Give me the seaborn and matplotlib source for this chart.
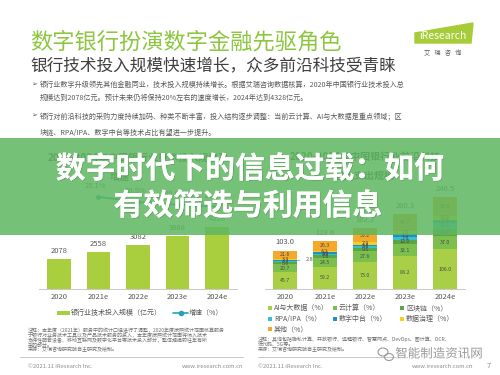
import numpy as np
import matplotlib
matplotlib.use("Agg")
import matplotlib.pyplot as plt
import seaborn as sns
from matplotlib.patches import Rectangle, Polygon, Ellipse
import matplotlib.patheffects as pe

# ---------------- data ----------------
years = ["2020", "2021e", "2022e", "2023e", "2024e"]
invest = [2078, 2558, 3082, 3668, 4328]
growth_years = ["2021e", "2022e", "2023e", "2024e"]
growth = [23.1, 20.5, 19.0, 18.0]

spend_total = [103.0, 128.6, 162.2, 200.3, 246.5]
seg_names = ["AI与大数据", "云计算", "区块链", "RPA/IPA", "数字中台", "数据治理", "其他"]
ai = [45.7, 59.2, 73.0, 88.2, 106.0]
cloud = [20.7, 24.5, 27.6, 32.1, 37.0]
chain = [5.6, 7.6, 9.6, 12.0, 18.5]
rpa = [3.3, 3.5, 5.6, 7.6, 15.1]
midplat = [2.8, 3.3, 3.3, 7.2, 8.5]
gov = [3.3, 4.2, 7.9, 7.5, 10.6]
other = [21.6, 26.3, 35.2, 45.7, 50.8]

seg_colors = ["#a9cf46", "#7dbf4c", "#5aa647", "#35c0cf", "#1f8fc2", "#f3cf23", "#f5a82a"]
bar_color = "#a9cf3f"
line_color = "#22a3b8"

# ---------------- setup ----------------
sns.set_theme(style="white")
plt.rcParams["font.family"] = ["Noto Sans CJK SC", "DejaVu Sans"]

W, H = 500, 375
fig = plt.figure(figsize=(5, 3.75), dpi=100)
fig.patch.set_facecolor("white")

def fx(x): return x / W
def fy(y): return 1 - y / H
def ftext(x, y, s, **kw):
    kw.setdefault("va", "center")
    return fig.text(fx(x), fy(y), s, **kw)
def frect(x0, y0, x1, y1, **kw):
    r = Rectangle((fx(x0), fy(y1)), (x1 - x0) / W, (y1 - y0) / H,
                  transform=fig.transFigure, **kw)
    fig.add_artist(r)
    return r
def fline(x0, x1, y, **kw):
    fig.add_artist(plt.Line2D([fx(x0), fx(x1)], [fy(y), fy(y)],
                              transform=fig.transFigure, **kw))

gray = "#595959"

# ---------------- header ----------------
ftext(30, 42, "数字银行扮演数字金融先驱角色", fontsize=16, color="#8cc63f")
ftext(30, 66, "银行技术投入规模快速增长，众多前沿科技受青睐", fontsize=12, color="#3f3f3f")

logo = Polygon([(fx(415), fy(33)), (fx(473), fy(23)), (fx(471), fy(43)), (fx(415), fy(43))],
               closed=True, transform=fig.transFigure, color="#a6cc38")
fig.add_artist(logo)
ftext(443, 36, "iResearch", fontsize=7.5, color="white", ha="center")
ftext(443, 53, "艾   瑞   咨   询", fontsize=4.5, color="#595959", ha="center")

bul = dict(fontsize=5.1, color=gray, family=["Noto Sans CJK SC", "DejaVu Sans"])
ftext(31, 85, "➢", **bul)
ftext(40, 85, "银行业数字升级领先其他金融同业，技术投入规模持续增长。根据艾瑞咨询数据核算，2020年中国银行业技术投入总", **bul)
ftext(40, 98, "规模达到2078亿元。预计未来仍将保持20%左右的速度增长，2024年达到4328亿元。", **bul)
ftext(31, 116, "➢", **bul)
ftext(40, 116, "银行对前沿科技的采购力度持续加码、种类不断丰富，投入结构逐步调整：当前云计算、AI与大数据是重点领域；区", **bul)
ftext(40, 133, "块链、RPA/IPA、数字中台等技术占比有望进一步提升。", **bul)

# chart titles (mostly hidden under overlay)
ttl = dict(fontsize=7.2, color="#505050", ha="center", weight="bold")
ftext(138, 158, "2020-2024年中国银行业技术投入规模及", **ttl)
ftext(120, 177, "增速", **ttl)
ftext(365, 157, "2020-2024年中国银行业前沿科技", **ttl)
ftext(365, 176, "投入支出规模", **ttl)

# ---------------- left chart ----------------
axl = fig.add_axes([fx(39), fy(289), 198 / W, 100 / H])
sns.barplot(x=years, y=invest, order=years, color=bar_color, width=0.6,
            saturation=1, linewidth=0, ax=axl)
axl.set_ylim(0, 6980)
axl.set_xlim(-0.5, 4.5)
for i, v in enumerate(invest):
    axl.annotate(f"{v}", (i, v), xytext=(0, 6), textcoords="offset points",
                 ha="center", va="center", fontsize=5.5, color=gray)

axg = axl.twinx()
gpos = [years.index(g) for g in growth_years]
sns.lineplot(x=gpos, y=growth, ax=axg, color=line_color, linewidth=1.3,
             marker="o", markersize=3.5, markeredgewidth=0)
axg.set_ylim(-24.8, 27.2)
for p, g in zip(gpos, growth):
    axg.annotate(f"{g:.1f}%", (p, g), xytext=(-2, 8), textcoords="offset points",
                 ha="center", va="center", fontsize=5.5, color=gray)
axl.set_xlim(-0.5, 4.5)

# ---------------- right chart ----------------
axr = fig.add_axes([fx(265), fy(289), 200 / W, 100 / H])
segs = np.array([ai, cloud, chain, rpa, midplat, gov, other])
cum = np.cumsum(segs, axis=0)
for i in range(len(seg_names) - 1, -1, -1):
    sns.barplot(x=years, y=cum[i], order=years, color=seg_colors[i], width=0.62,
                saturation=1, linewidth=0, ax=axr)
axr.set_ylim(0, 268)
axr.set_xlim(-0.5, 4.5)
for j in range(len(years)):
    for i in range(len(seg_names)):
        v = segs[i, j]
        yc = cum[i, j] - v / 2
        if j == 0 and i == 4:
            axr.annotate(f"{v}", (j + 0.31, yc), xytext=(j + 0.62, yc + 2),
                         ha="center", va="center", fontsize=4.0, color=gray,
                         arrowprops=dict(arrowstyle="-", color="#8c8c8c", lw=0.5))
            continue
        axr.text(j, yc, f"{v}", ha="center", va="center", fontsize=3.8, color="#4a4a4a")
    axr.annotate(f"{spend_total[j]:.1f}", (j, spend_total[j]), xytext=(0, 6),
                 textcoords="offset points", ha="center", va="center",
                 fontsize=5.5, color=gray)

for ax in (axl, axg, axr):
    ax.set_facecolor("none")
    for s in ("top", "left", "right"):
        ax.spines[s].set_visible(False)
    ax.set_yticks([])
    ax.set_ylabel("")
    ax.set_xlabel("")
axg.spines["bottom"].set_visible(False)
for ax in (axl, axr):
    ax.spines["bottom"].set_color("#bfbfbf")
    ax.spines["bottom"].set_linewidth(0.6)
    ax.tick_params(axis="x", length=0, pad=3, labelsize=5.5, labelcolor=gray)

# ---------------- legends ----------------
frect(57, 311, 70, 315, color=bar_color, lw=0)
ftext(71, 313, "银行业技术投入规模（亿元）", fontsize=5, color=gray)
fline(173, 188, 313, color=line_color, lw=1.2)
fig.add_artist(plt.Line2D([fx(180.5)], [fy(313)], marker="o", markersize=3,
                          color=line_color, transform=fig.transFigure))
ftext(189, 313, "增速（%）", fontsize=5, color=gray)

leg_pos = [(270, 308), (335, 308), (402, 308), (270, 319), (335, 319), (402, 319), (270, 329)]
for (x, y), name, c in zip(leg_pos, seg_names, seg_colors):
    frect(x - 2, y - 2, x + 2, y + 2, color=c, lw=0)
    ftext(x + 4, y, f"{name}（%）", fontsize=5, color=gray)

# ---------------- notes / footer ----------------
nt = dict(fontsize=3.6, color="#6f6f6f")
ftext(28, 330, "注释：本年度（2021年）服务中的统计口径进行了调整，2020年度按照统计范围核算服务", **nt)
ftext(28, 335, "于银行对业务技术工具以及产品技术服务的投入，本年度按照统计范围将纳入技术", **nt)
ftext(28, 340, "支持性配套设备、移动互联网及数字化平台等技术投入部分，整体规模较往年有所", **nt)
ftext(28, 345, "采的部分。", **nt)
ftext(28, 350, "来源：艾瑞咨询研究院自主研究及绘制。", **nt)

ftext(258, 339, "注释：其他包括隐私计算、开放银行、远程银行、智慧网点、DevOps、图计算、OCR、", **nt)
ftext(258, 344.5, "低代码、5G等。", **nt)
ftext(258, 350, "来源：艾瑞咨询研究院自主研究及绘制。", **nt)

fline(20, 243, 357, color="#bfbfbf", lw=0.6)
fline(258, 475, 357, color="#bfbfbf", lw=0.6)
ft = dict(fontsize=4.2, color="#8c8c8c")
ftext(28, 366, "©2021.11 iResearch Inc.", **ft)
ftext(243, 366, "www.iresearch.com.cn", ha="right", **ft)
ftext(258, 366, "©2021.11 iResearch Inc.", **ft)
ftext(473, 366, "www.iresearch.com.cn", ha="right", **ft)
ftext(489, 366, "7", fontsize=5.5, color="#8c8c8c", ha="center")

# watermark
for (cx, cy, w_, h_) in [(383, 352, 10, 8), (389, 357, 9, 7)]:
    fig.add_artist(Ellipse((fx(cx), fy(cy)), w_ / W, h_ / H, transform=fig.transFigure,
                           fill=False, ec="#9a9a9a", lw=0.8, zorder=20))
ftext(439, 354, "智能制造资讯网", fontsize=9, color="#9a9a9a", ha="center", zorder=20,
      path_effects=[pe.withStroke(linewidth=1.5, foreground="white")])

# ---------------- overlay band ----------------
frect(0, 138, 500, 235, color=(95 / 255, 183 / 255, 98 / 255), alpha=0.86, lw=0, zorder=50)
ovl = dict(fontsize=21.5, color="white", weight="bold", ha="center", zorder=60,
           path_effects=[pe.withSimplePatchShadow(offset=(0.6, -0.6), shadow_rgbFace="#3a6e3b", alpha=0.35),
                         pe.Normal()])
ftext(250, 169, "数字时代下的信息过载：如何", **ovl)
ftext(248, 206, "有效筛选与利用信息", **ovl)

fig.savefig("out.png", dpi=100)
